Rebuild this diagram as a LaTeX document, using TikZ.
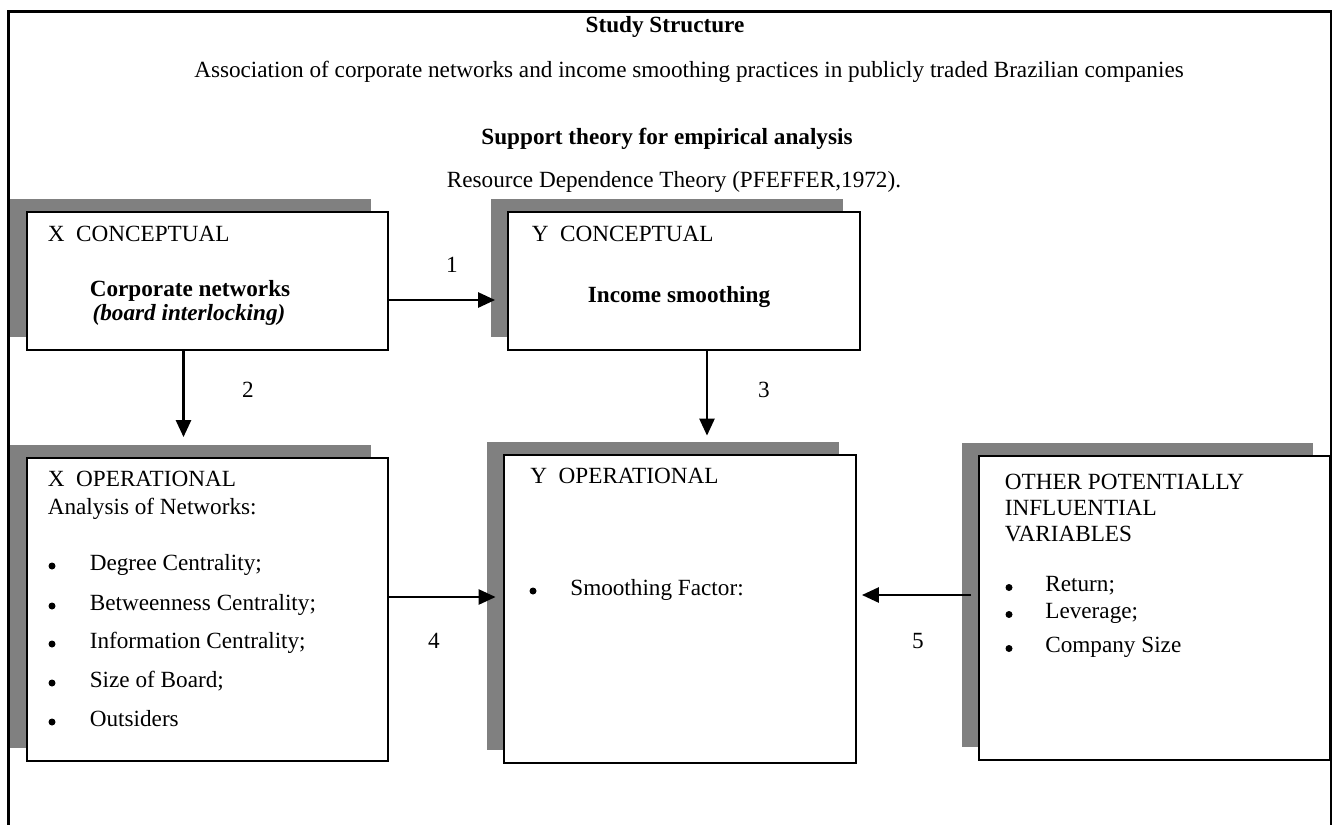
\documentclass[tikz,border=0pt]{standalone}
\usepackage{fontspec}
\setmainfont{Liberation Serif}
\usetikzlibrary{arrows.meta, positioning, shadows}
\definecolor{shadegray}{RGB}{128, 128, 128}
\tikzset{
  stbox/.style={rectangle, draw=black, line width=1.6pt, fill=white, inner sep=0pt,
                drop shadow={shadow xshift=-0.34cm, shadow yshift=0.26cm, fill=shadegray, opacity=1}},
  txt/.style={anchor=base west, inner sep=0pt},
  ctxt/.style={anchor=base, inner sep=0pt},
  bul/.style={circle, fill=black, inner sep=0pt, minimum size=0.14cm},
  arr/.style={-{Triangle[length=0.34cm, width=0.3cm]}, line width=1.5pt},
}
\begin{document}
\begin{tikzpicture}[font=\fontsize{13.2}{14.8}\selectfont]
  \useasboundingbox (0, 0) rectangle (26.7, -16.48);
  % outer frame, open at the bottom
  \draw[line width=1.2pt] (0.17, -16.6) -- (0.17, -0.23) -- (26.62, -0.23) -- (26.62, -16.6);

  % headings
  \node[ctxt, font=\fontsize{13.2}{14.8}\selectfont\bfseries] (title) at (13.3, -0.64) {Study Structure};
  \node[ctxt] (topic) at (13.78, -1.54) {Association of corporate networks and income smoothing practices in publicly traded Brazilian companies};
  \node[ctxt, font=\fontsize{13.2}{14.8}\selectfont\bfseries] (supp) at (13.34, -2.88) {Support theory for empirical analysis};
  \node[ctxt] (theory) at (13.48, -3.74) {Resource Dependence Theory (PFEFFER,1972).};

  % X conceptual
  \node[stbox, minimum width=7.22cm, minimum height=2.76cm] (xcon) at (4.15, -5.62) {};
  \node[txt] at (0.95, -4.82) {X~~CONCEPTUAL};
  \node[ctxt, font=\fontsize{13.2}{14.8}\selectfont\bfseries] at (3.8, -5.92) {Corporate networks};
  \node[ctxt, font=\fontsize{13.2}{14.8}\selectfont\bfseries\itshape] at (3.78, -6.41) {(board interlocking)};

  % Y conceptual
  \node[stbox, minimum width=7.04cm, minimum height=2.76cm] (ycon) at (13.68, -5.62) {};
  \node[txt] at (10.63, -4.83) {Y~~CONCEPTUAL};
  \node[ctxt, font=\fontsize{13.2}{14.8}\selectfont\bfseries] at (13.58, -6.05) {Income smoothing};

  % X operational
  \node[stbox, minimum width=7.22cm, minimum height=6.06cm] (xop) at (4.15, -12.19) {};
  \node[txt] at (0.95, -9.73) {X~~OPERATIONAL};
  \node[txt] at (0.95, -10.28) {Analysis of Networks:};
  \node[bul] at (1.04, -11.32) {};
  \node[txt] at (1.79, -11.4) {Degree Centrality;};
  \node[bul] at (1.04, -12.12) {};
  \node[txt] at (1.79, -12.2) {Betweenness Centrality;};
  \node[bul] at (1.04, -12.88) {};
  \node[txt] at (1.79, -12.96) {Information Centrality;};
  \node[bul] at (1.04, -13.66) {};
  \node[txt] at (1.79, -13.74) {Size of Board;};
  \node[bul] at (1.04, -14.44) {};
  \node[txt] at (1.79, -14.52) {Outsiders};

  % Y operational
  \node[stbox, minimum width=7.04cm, minimum height=6.16cm] (yop) at (13.6, -12.18) {};
  \node[txt] at (10.6, -9.67) {Y~~OPERATIONAL};
  \node[bul] at (10.66, -11.82) {};
  \node[txt] at (11.4, -11.9) {Smoothing Factor:};

  % other variables
  \node[stbox, minimum width=7.02cm, minimum height=6.08cm] (other) at (23.09, -12.16) {};
  \node[txt] at (20.09, -9.79) {OTHER POTENTIALLY};
  \node[txt] at (20.09, -10.31) {INFLUENTIAL};
  \node[txt] at (20.09, -10.83) {VARIABLES};
  \node[bul] at (20.18, -11.75) {};
  \node[txt] at (20.9, -11.83) {Return;};
  \node[bul] at (20.18, -12.29) {};
  \node[txt] at (20.9, -12.37) {Leverage;};
  \node[bul] at (20.18, -12.97) {};
  \node[txt] at (20.9, -13.05) {Company Size};

  % relations
  \coordinate (a1) at ([yshift=-0.38cm]xcon.east);
  \coordinate (a2) at ([xshift=-0.48cm]xcon.south);
  \coordinate (a3) at ([xshift=0.46cm]ycon.south);
  \coordinate (a4) at ([yshift=0.25cm]xop.east);
  \coordinate (a5) at ([yshift=0.26cm]other.west);
  \draw[arr, shorten >=0.23cm] (a1) -- (a1 -| ycon.west);
  \draw[arr, shorten >=0.39cm] (a2) -- (a2 |- xop.north);
  \draw[arr, shorten >=0.36cm] (a3) -- (a3 |- yop.north);
  \draw[arr, shorten >=0.14cm] (a4) -- (a4 -| yop.west);
  \draw[arr, shorten <=0.13cm, shorten >=0.09cm] (a5) -- (a5 -| yop.east);
  \node (n1) at (9.04, -5.3) {1};
  \node (n2) at (4.96, -7.8) {2};
  \node (n3) at (15.28, -7.8) {3};
  \node (n4) at (8.68, -12.82) {4};
  \node (n5) at (18.36, -12.82) {5};
\end{tikzpicture}
\end{document}
